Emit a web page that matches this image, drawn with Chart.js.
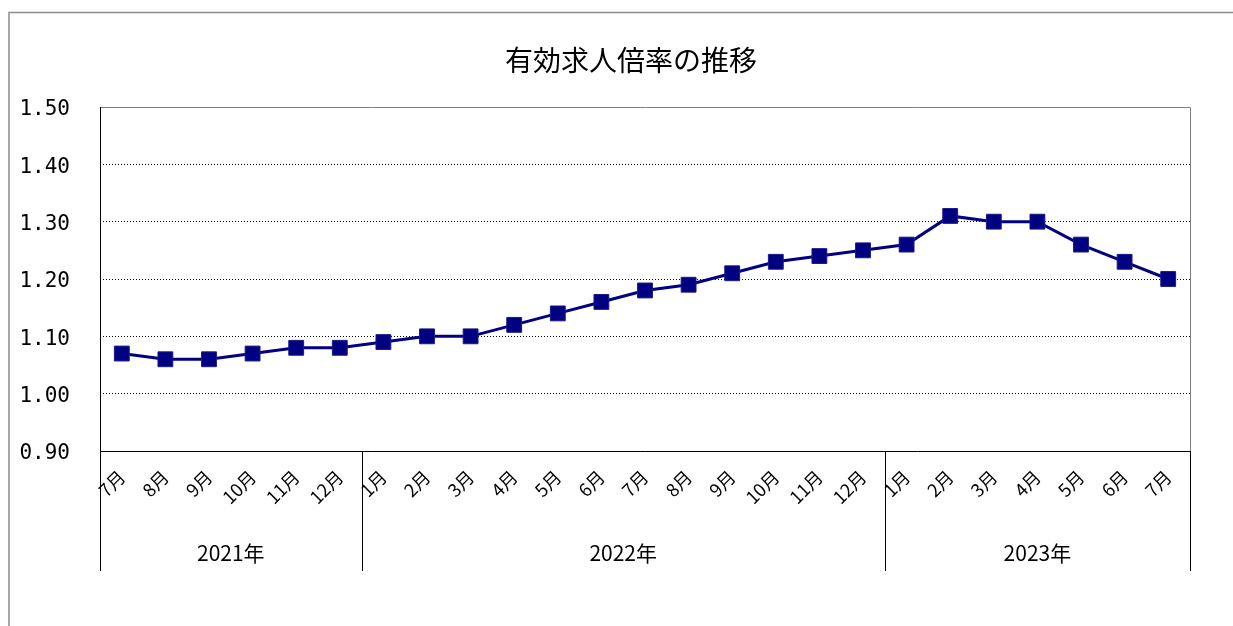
<!DOCTYPE html>
<html><head><meta charset="utf-8">
<script src="https://cdn.jsdelivr.net/npm/chart.js@4/dist/chart.umd.min.js"></script>
<style>html,body{margin:0;padding:0;background:#fff;}#wrap{width:1233px;height:626px;}</style>
</head><body><div id="wrap"><canvas id="c" width="1233" height="626"></canvas></div>
<script>
const title = '有効求人倍率の推移';
const months = ['7月','8月','9月','10月','11月','12月','1月','2月','3月','4月','5月','6月','7月','8月','9月','10月','11月','12月','1月','2月','3月','4月','5月','6月','7月'];
const ratios = [1.07,1.06,1.06,1.07,1.08,1.08,1.09,1.10,1.10,1.12,1.14,1.16,1.18,1.19,1.21,1.23,1.24,1.25,1.26,1.31,1.30,1.30,1.26,1.23,1.20];
const years = ['2021年','2022年','2023年'];
const yearCounts = [6,12,7];
const yMin = 0.90, yMax = 1.50, yStep = 0.10;

const CJK = '"Noto Sans CJK JP", "Noto Sans", sans-serif';

const decor = {
  id: 'decor',
  afterDraw(chart) {
    const ctx = chart.ctx, a = chart.chartArea, xs = chart.scales.x;
    ctx.save();
    // outer frame
    ctx.strokeStyle = '#8c8c8c'; ctx.lineWidth = 1.5;
    ctx.beginPath(); ctx.moveTo(9, 626); ctx.lineTo(9, 12.5); ctx.lineTo(1233, 12.5); ctx.stroke();
    // plot frame
    ctx.lineWidth = 1;
    ctx.strokeStyle = '#808080';
    ctx.beginPath(); ctx.moveTo(a.left, a.top + 0.5); ctx.lineTo(a.right + 0.5, a.top + 0.5); ctx.lineTo(a.right + 0.5, a.bottom); ctx.stroke();
    ctx.strokeStyle = '#000';
    ctx.beginPath(); ctx.moveTo(a.left + 0.5, a.top); ctx.lineTo(a.left + 0.5, a.bottom + 0.5); ctx.lineTo(a.right, a.bottom + 0.5); ctx.stroke();
    // year groups
    const half = (xs.getPixelForValue(1) - xs.getPixelForValue(0)) / 2;
    let idx = 0;
    const bounds = [xs.getPixelForValue(0) - half];
    ctx.font = '21px ' + CJK; ctx.fillStyle = '#000'; ctx.textAlign = 'center'; ctx.textBaseline = 'middle';
    years.forEach((y, i) => {
      const s = xs.getPixelForValue(idx) - half;
      idx += yearCounts[i];
      const e = xs.getPixelForValue(idx - 1) + half;
      bounds.push(e);
      ctx.fillText(y, (s + e) / 2, 553);
    });
    ctx.strokeStyle = '#000'; ctx.lineWidth = 1;
    bounds.forEach(b => {
      const x = Math.round(b) + 0.5;
      ctx.beginPath(); ctx.moveTo(x, a.bottom); ctx.lineTo(x, 571); ctx.stroke();
    });
    // title
    ctx.font = '28px ' + CJK; ctx.textAlign = 'center'; ctx.textBaseline = 'middle';
    ctx.fillText(title, 631, 60);
    ctx.restore();
  }
};

new Chart(document.getElementById('c'), {
  type: 'line',
  data: {
    labels: months,
    datasets: [{
      data: ratios,
      borderColor: '#000080',
      backgroundColor: '#000080',
      borderWidth: 3,
      pointStyle: 'rect',
      pointRadius: 10.5,
      pointBorderWidth: 1,
      pointBorderColor: '#1a1a8a',
      pointBackgroundColor: '#000080',
      tension: 0,
      clip: false
    }]
  },
  options: {
    responsive: false,
    animation: false,
    devicePixelRatio: 1,
    layout: { padding: { left: 0, right: 43, top: 107, bottom: 0 } },
    plugins: { legend: { display: false }, title: { display: false }, tooltip: { enabled: false } },
    scales: {
      x: {
        offset: true,
        grid: { display: false, drawTicks: false },
        border: { display: false },
        ticks: {
          autoSkip: false, maxRotation: 45, minRotation: 45, padding: 15,
          color: '#000', font: { family: CJK, size: 18 }
        },
        afterFit(s) { s.height = 175; }
      },
      y: {
        min: yMin, max: yMax,
        grid: { color: (c) => (c.tick && (Math.abs(c.tick.value - yMin) < 1e-6 || Math.abs(c.tick.value - yMax) < 1e-6)) ? 'rgba(0,0,0,0)' : '#000', lineWidth: 1, drawTicks: false },
        border: { display: false, dash: [1, 2] },
        ticks: {
          stepSize: yStep, padding: 30, color: '#000', labelOffset: 3,
          font: { family: '"DejaVu Sans Mono", "Liberation Mono", monospace', size: 21 },
          callback: (v) => Number(v).toFixed(2)
        },
        afterFit(s) { s.width = 100; }
      }
    }
  },
  plugins: [decor]
});
</script>
</body></html>
